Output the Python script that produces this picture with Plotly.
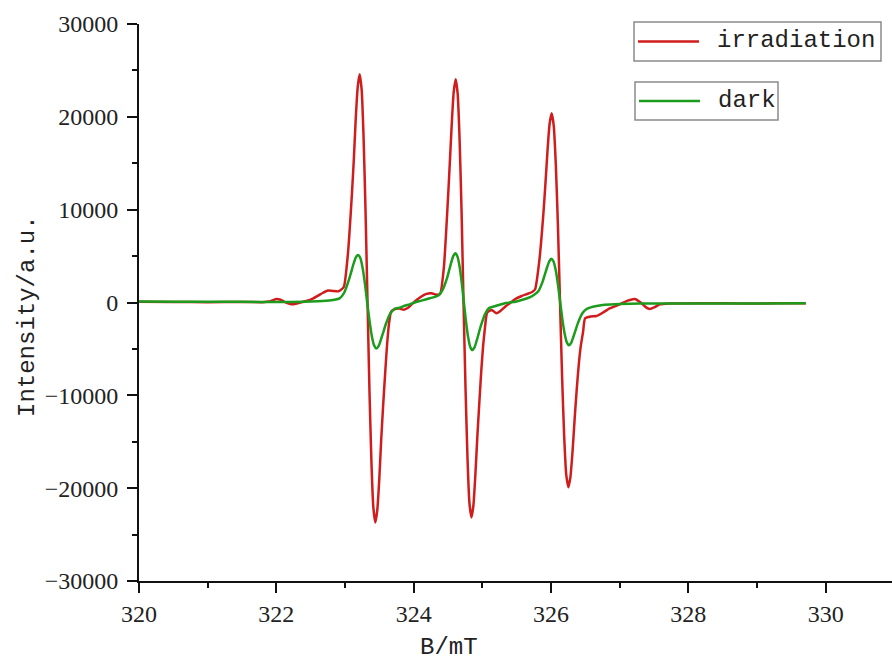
import plotly.graph_objects as go

# EPR spectra: magnetic field (mT) and signal intensity (a.u.)
field_irradiation = [
    320.000, 320.500, 321.000, 321.500, 321.800, 321.900, 321.960, 322.000, 322.050, 322.100,
    322.150, 322.220, 322.300, 322.400, 322.500, 322.600, 322.680, 322.750, 322.820, 322.900,
    322.927, 322.984, 323.042, 323.099, 323.128, 323.156, 323.185, 323.213, 323.242, 323.270,
    323.299, 323.328, 323.356, 323.385, 323.413, 323.442, 323.470, 323.499, 323.527, 323.556,
    323.585, 323.613, 323.642, 323.671, 323.728, 323.796, 323.855, 323.913, 323.971, 324.029,
    324.102, 324.175, 324.258, 324.321, 324.383, 324.440, 324.498, 324.526, 324.555, 324.583,
    324.612, 324.641, 324.669, 324.698, 324.726, 324.755, 324.784, 324.812, 324.841, 324.870,
    324.898, 324.927, 324.956, 324.984, 325.012, 325.041, 325.069, 325.136, 325.205, 325.267,
    325.340, 325.413, 325.496, 325.573, 325.646, 325.719, 325.767, 325.828, 325.888, 325.918,
    325.949, 325.979, 326.010, 326.040, 326.070, 326.101, 326.131, 326.161, 326.192, 326.222,
    326.253, 326.283, 326.314, 326.345, 326.375, 326.405, 326.435, 326.466, 326.496, 326.578,
    326.661, 326.753, 326.854, 327.000, 327.117, 327.219, 327.306, 327.379, 327.437, 327.510,
    327.583, 327.728, 328.200, 328.800, 329.300, 329.710,
]
intensity_irradiation = [
    80, 60, 40, 60, 40, 100, 280, 380, 330, 150,
    -50, -200, -100, 100, 300, 700, 1050, 1300, 1250, 1200,
    1300, 1700, 5200, 11500, 15350, 19750, 23210, 24600, 22950, 17880,
    9840, 0, -9480, -17230, -22110, -23700, -22360, -19030, -14790, -11000,
    -7600, -4500, -2200, -1000, -700, -650, -780, -600, -200, 200,
    600, 900, 1000, 850, 900, 3800, 11000, 15010, 19310, 22690,
    24050, 22440, 17480, 9620, 0, -9260, -16830, -21600, -23150, -21840,
    -18590, -14450, -10800, -7400, -4600, -2500, -1100, -800, -1170, -900,
    -400, 0, 450, 700, 900, 1100, 1400, 4400, 9500, 12720,
    16370, 19230, 20380, 19010, 14820, 8150, 0, -7960, -14470, -18570,
    -19900, -18780, -15980, -12420, -9300, -6600, -4600, -3200, -1700, -1500,
    -1460, -1100, -630, -200, 200, 380, 0, -500, -700, -500,
    -200, -100, -80, -100, -90, -90,
]

field_dark = [
    320.000, 320.500, 321.000, 321.500, 322.000, 322.400, 322.600, 322.800, 322.921, 322.988,
    323.055, 323.089, 323.122, 323.156, 323.189, 323.223, 323.256, 323.290, 323.323, 323.357,
    323.390, 323.424, 323.457, 323.491, 323.524, 323.558, 323.591, 323.658, 323.725, 323.796,
    323.869, 323.942, 324.015, 324.088, 324.161, 324.234, 324.306, 324.360, 324.422, 324.483,
    324.514, 324.545, 324.576, 324.607, 324.638, 324.669, 324.700, 324.731, 324.762, 324.793,
    324.824, 324.855, 324.886, 324.917, 324.948, 324.979, 325.041, 325.102, 325.180, 325.253,
    325.340, 325.486, 325.632, 325.704, 325.750, 325.814, 325.878, 325.910, 325.942, 325.974,
    326.006, 326.038, 326.070, 326.102, 326.134, 326.166, 326.198, 326.230, 326.262, 326.294,
    326.326, 326.358, 326.390, 326.454, 326.518, 326.592, 326.665, 326.781, 327.000, 327.300,
    328.000, 329.000, 329.710,
]
intensity_dark = [
    100, 90, 80, 70, 60, 80, 130, 250, 450, 1050,
    2400, 3250, 4120, 4840, 5130, 4790, 3730, 2050, 0, -1980,
    -3600, -4620, -4950, -4670, -3970, -3190, -2400, -1200, -670, -550,
    -350, -200, 0, 150, 300, 450, 600, 750, 1350, 2560,
    3400, 4260, 5000, 5300, 4940, 3850, 2120, 0, -2050, -3730,
    -4790, -5130, -4840, -4120, -3300, -2500, -1230, -580, -400, -250,
    -50, 90, 400, 600, 800, 1200, 2250, 3010, 3770, 4430,
    4700, 4390, 3420, 1880, 0, -1840, -3340, -4290, -4600, -4340,
    -3690, -2970, -2250, -1180, -700, -500, -380, -250, -160, -120,
    -100, -100, -90,
]

series_names = ["irradiation", "dark"]
series_colors = ["#d01c1c", "#1c9c1c"]

W, H = 892, 660
ML, MR, MT, MB = 139, 0, 24, 79
PW, PH = W - ML - MR, H - MT - MB


def px(xp):
    return (xp - ML) / PW


def py(yp):
    return (H - MB - yp) / PH


fig = go.Figure()
for xs, ys, name, color in [
    (field_irradiation, intensity_irradiation, series_names[0], series_colors[0]),
    (field_dark, intensity_dark, series_names[1], series_colors[1]),
]:
    fig.add_trace(go.Scatter(
        x=xs, y=ys, mode="lines", name=name,
        line=dict(color=color, width=2.5, shape="spline", smoothing=0.5),
        showlegend=False,
    ))

text_color = "#222222"
tick_font = dict(family="Liberation Serif", size=24, color=text_color)
label_font = dict(family="Liberation Mono", size=24, color=text_color)

axis_common = dict(
    showline=True, linecolor="#111111", linewidth=2,
    ticks="outside", ticklen=10, tickwidth=2, tickcolor="#111111",
    showgrid=False, zeroline=False, tickfont=tick_font,
    mirror=False, tickformat="d",
)

fig.update_xaxes(
    range=[320, 320 + PW / 68.67], dtick=2, tick0=320,
    minor=dict(dtick=1, ticks="outside", ticklen=5, tickwidth=2, tickcolor="#111111"),
    ticklabelstandoff=0,
    **axis_common,
)
fig.update_yaxes(
    range=[-30000, 30000], dtick=10000, tick0=0,
    minor=dict(dtick=5000, ticks="outside", ticklen=5, tickwidth=2, tickcolor="#111111"),
    ticklabelstandoff=4,
    **axis_common,
)

shapes = []
annotations = []

# axis titles
annotations.append(dict(
    text="B/mT", x=px(449), y=py(647), xref="paper", yref="paper",
    xanchor="center", yanchor="middle", showarrow=False, font=label_font,
))
annotations.append(dict(
    text="Intensity/a.u.", x=px(27), y=py(316), xref="paper", yref="paper",
    xanchor="center", yanchor="middle", showarrow=False, textangle=-90, font=label_font,
))

# two separate legend boxes
legend_boxes = [(634, 881, 22, 61), (635, 778, 82, 120)]
for (x0, x1, y0, y1), name, color in zip(legend_boxes, series_names, series_colors):
    shapes.append(dict(
        type="rect", xref="paper", yref="paper",
        x0=px(x0), x1=px(x1), y0=py(y1), y1=py(y0),
        line=dict(color="#8a8a8a", width=1.5), fillcolor="white", layer="above",
    ))
    ym = (y0 + y1) / 2
    shapes.append(dict(
        type="line", xref="paper", yref="paper",
        x0=px(x0 + 4), x1=px(x0 + 65), y0=py(ym), y1=py(ym),
        line=dict(color=color, width=2.3), layer="above",
    ))
    annotations.append(dict(
        text=name, x=px(x0 + 81), y=py(ym - 1), xref="paper", yref="paper",
        xanchor="left", yanchor="middle", showarrow=False, font=label_font,
    ))

fig.update_layout(
    width=W, height=H,
    margin=dict(l=ML, r=MR, t=MT, b=MB),
    paper_bgcolor="white", plot_bgcolor="white",
    shapes=shapes, annotations=annotations,
    showlegend=False,
)

fig.write_html("out.html")
